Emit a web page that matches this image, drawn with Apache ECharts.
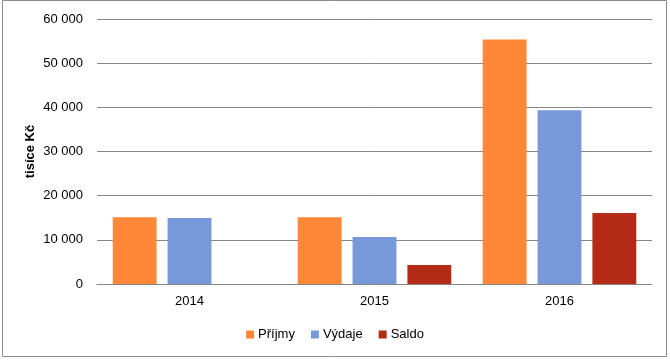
<!DOCTYPE html>
<html><head><meta charset="utf-8">
<script src="https://cdn.jsdelivr.net/npm/echarts@6/dist/echarts.min.js"></script>
<style>html,body{margin:0;padding:0;background:#fff}#c{width:670px;height:360px}</style>
</head><body><div id="c"></div>
<script>
const categories = ['2014', '2015', '2016'];
const prijmy = [15140, 15140, 55370];
const vydaje = [14920, 10620, 39320];
const saldo = [0, 4290, 16050];
const yTicks = [0, 10000, 20000, 30000, 40000, 50000, 60000];

const font = '"Liberation Sans", Arial, sans-serif';
const chart = echarts.init(document.getElementById('c'), null, {renderer: 'canvas'});
const fmt = v => String(v).replace(/\B(?=(\d{3})+(?!\d))/g, ' ');
chart.setOption({
  animation: false,
  backgroundColor: '#fff',
  graphic: [{type: 'rect', shape: {x: 2.5, y: 0.5, width: 664, height: 356}, style: {fill: 'none', stroke: '#8c8c8c', lineWidth: 1}, silent: true}],
  grid: {left: 97, right: 18, top: 19, bottom: 76, containLabel: false},
  legend: {
    bottom: 14, left: 'center', itemWidth: 8, itemHeight: 8, itemGap: 16,
    icon: 'rect',
    textStyle: {fontFamily: font, fontSize: 13, color: '#000', padding: [0,0,0,-1]},
    data: ['Příjmy', 'Výdaje', 'Saldo']
  },
  xAxis: {
    type: 'category', data: categories,
    axisLine: {lineStyle: {color: '#868686'}},
    axisTick: {show: false},
    axisLabel: {fontFamily: font, fontSize: 13, color: '#000', margin: 11}
  },
  yAxis: {
    type: 'value', min: yTicks[0], max: yTicks[yTicks.length-1], interval: 10000,
    name: 'tisíce Kč', nameLocation: 'middle', nameGap: 60, nameRotate: 90, nameMoveOverlap: false,
    nameTextStyle: {fontFamily: font, fontSize: 13, fontWeight: 'bold', color: '#000'},
    axisLine: {show: false}, axisTick: {show: false},
    axisLabel: {fontFamily: font, fontSize: 13, color: '#000', margin: 14, formatter: fmt},
    splitLine: {lineStyle: {color: '#868686'}}
  },
  series: [
    {name: 'Příjmy', type: 'bar', data: prijmy, itemStyle: {color: '#FF8838'}, barGap: '25%', barCategoryGap: '17%'},
    {name: 'Výdaje', type: 'bar', data: vydaje, itemStyle: {color: '#7799D9'}},
    {name: 'Saldo', type: 'bar', data: saldo, itemStyle: {color: '#B32B17'}}
  ]
});
</script></body></html>
